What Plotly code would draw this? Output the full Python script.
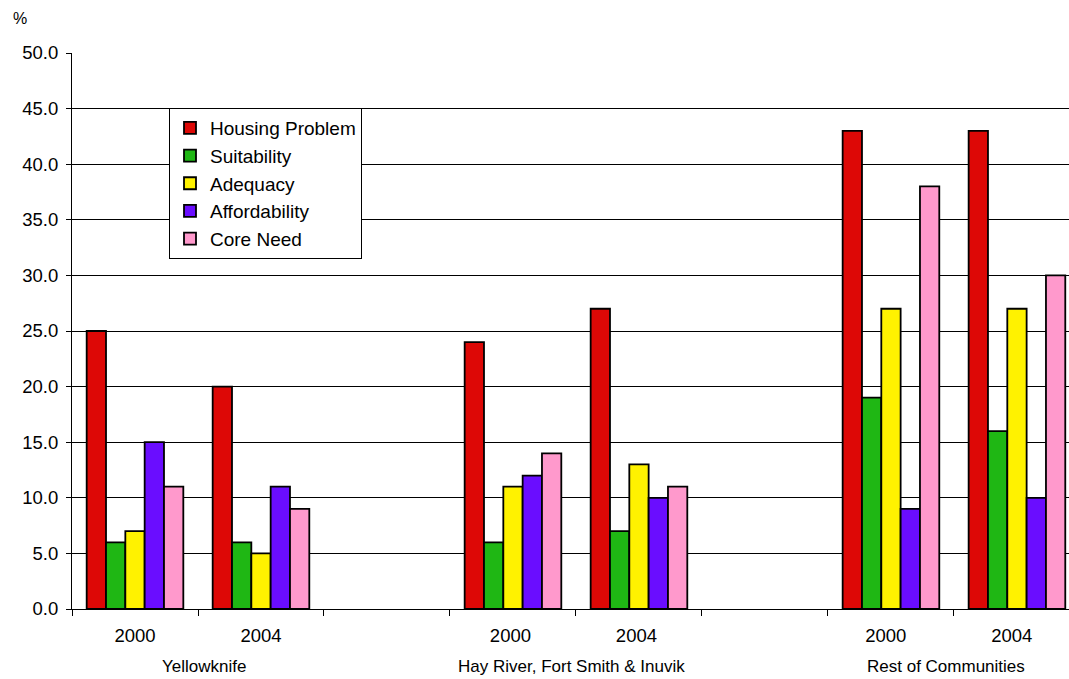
import plotly.graph_objects as go

# Category slots along the x axis (blank slots separate the regions)
slots = ["2000", "2004", " ", "2000 ", "2004 ", "  ", "2000  ", "2004  "]
bar_slots = ["2000", "2004", "2000 ", "2004 ", "2000  ", "2004  "]

regions = ["Yellowknife", "Hay River, Fort Smith & Inuvik", "Rest of Communities"]
region_label_pos = [0.548, 3.468, 6.437]  # category-index positions of region labels

series_names = ["Housing Problem", "Suitability", "Adequacy", "Affordability", "Core Need"]
housing_problem = [25, 20, 24, 27, 43, 43]
suitability = [6, 6, 6, 7, 19, 16]
adequacy = [7, 5, 11, 13, 27, 27]
affordability = [15, 11, 12, 10, 9, 10]
core_need = [11, 9, 14, 11, 38, 30]

series_values = [housing_problem, suitability, adequacy, affordability, core_need]
colors = ["#DD0806", "#1FB714", "#FFF200", "#6A0DFF", "#FF99CC"]

y_ticks = [0, 5, 10, 15, 20, 25, 30, 35, 40, 45, 50]

FONT = "Arial, Liberation Sans, sans-serif"
x_range = [-0.5, 7.413]

fig = go.Figure()
for name, vals, col in zip(series_names, series_values, colors):
    fig.add_trace(go.Bar(
        name=name, x=bar_slots, y=vals,
        marker=dict(color=col, line=dict(color="black", width=1.8)),
    ))

fig.update_layout(
    width=1069, height=679,
    margin=dict(l=72, r=0, t=53, b=70),
    paper_bgcolor="white", plot_bgcolor="white",
    barmode="group", bargap=0.233, bargroupgap=0,
    font=dict(family=FONT, color="black", size=18),
    showlegend=True,
    legend=dict(
        x=(169 - 72) / 997, y=(609 - 108) / 556, xanchor="left", yanchor="top",
        bgcolor="white", bordercolor="black", borderwidth=1,
        font=dict(family=FONT, size=19, color="black"),
        tracegroupgap=0,
    ),
)

fig.update_xaxes(
    type="category", categoryorder="array", categoryarray=slots,
    range=x_range, tickson="boundaries", ticks="outside", ticklen=6,
    tickcolor="black", showline=True, linecolor="black", linewidth=1,
    showgrid=False, ticklabelstandoff=10,
    tickfont=dict(family=FONT, size=18.5, color="black"),
)
fig.update_yaxes(
    range=[0, 50], tickvals=y_ticks, tickformat=".1f",
    ticks="outside", ticklen=5, tickcolor="black",
    showline=True, linecolor="black", linewidth=1,
    showgrid=True, gridcolor="black", gridwidth=1, zeroline=False,
    ticklabelstandoff=4,
    tickfont=dict(family=FONT, size=18.5, color="black"),
)

# Unit label above the value axis
fig.add_annotation(text="%", xref="paper", yref="paper",
                   x=(20 - 72) / 997, y=(609 - 19) / 556,
                   xanchor="center", yanchor="middle",
                   showarrow=False, font=dict(family=FONT, size=16, color="black"))

# Region labels beneath the year labels
for name, pos in zip(regions, region_label_pos):
    frac = (pos - x_range[0]) / (x_range[1] - x_range[0])
    fig.add_annotation(text=name, xref="paper", yref="paper",
                       x=frac, y=-0.104, xanchor="center", yanchor="middle",
                       showarrow=False, font=dict(family=FONT, size=17, color="black"))

fig.write_html("out.html")
